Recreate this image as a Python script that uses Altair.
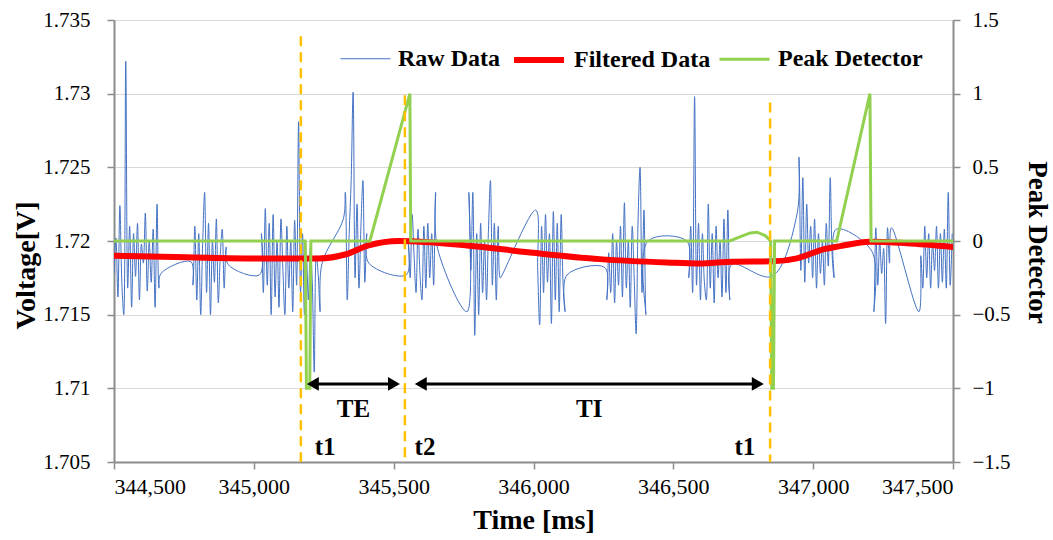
import altair as alt
import pandas as pd

SERIES = ["Raw Data", "Filtered Data", "Peak Detector"]
SERIES_COLORS = ["#4472C4", "#FF0000", "#92D050"]
SERIES_WIDTHS = [1, 6, 3]

SAMPLE_MS = 7  # sampling period inside each acquisition burst

# Raw voltage bursts: first sample time [ms] and samples [V]
burst_01_start = 344500
burst_01 = [1.7178, 1.7202, 1.7162, 1.7224, 1.7172, 1.7150, 1.7322, 1.7168, 1.7210, 1.7155,
            1.7205, 1.7176, 1.7212, 1.7160, 1.7198, 1.7185, 1.7219, 1.7166, 1.7200, 1.7172,
            1.7208, 1.7155, 1.7225, 1.7168, 1.7178]
burst_02_start = 344775
burst_02 = [1.7186, 1.7170, 1.7210, 1.7160, 1.7205, 1.7150, 1.7198, 1.7233, 1.7165, 1.7212,
            1.7150, 1.7200, 1.7172, 1.7215, 1.7158, 1.7190, 1.7208, 1.7168, 1.7196, 1.7184]
burst_03_start = 345020
burst_03 = [1.7177, 1.7205, 1.7165, 1.7222, 1.7170, 1.7212, 1.7150, 1.7218, 1.7162, 1.7200,
            1.7155, 1.7215, 1.7180, 1.7150, 1.7210, 1.7168, 1.7200, 1.7152, 1.7214, 1.7170,
            1.7281, 1.7165]
burst_04_start = 345174
burst_04 = [1.7205, 1.7150, 1.7190, 1.7160, 1.7195, 1.7172, 1.7111, 1.7190, 1.7178, 1.7152,
            1.7185]
burst_05_start = 345320
burst_05 = [1.7215, 1.7233, 1.7160, 1.7205, 1.7241, 1.7301, 1.7175, 1.7225, 1.7168, 1.7210,
            1.7241, 1.7172, 1.7205, 1.7185]
burst_06_start = 345545
burst_06 = [1.7177, 1.7200, 1.7175, 1.7218, 1.7190, 1.7165, 1.7208, 1.7178, 1.7160, 1.7210,
            1.7168, 1.7212, 1.7175, 1.7205, 1.7170, 1.7233, 1.7195]
burst_07_start = 345762
burst_07 = [1.7152, 1.7233, 1.7180, 1.7233, 1.7136, 1.7205, 1.7150, 1.7212, 1.7165, 1.7200,
            1.7160, 1.7208, 1.7241, 1.7170, 1.7212, 1.7160, 1.7210, 1.7175, 1.7177]
burst_08_start = 346008
burst_08 = [1.7221, 1.7180, 1.7143, 1.7210, 1.7165, 1.7218, 1.7172, 1.7205, 1.7144, 1.7220,
            1.7160, 1.7212, 1.7152, 1.7218, 1.7170, 1.7152, 1.7177]
burst_09_start = 346255
burst_09 = [1.7182, 1.7160, 1.7192, 1.7165, 1.7205, 1.7158, 1.7200, 1.7170, 1.7210, 1.7162,
            1.7226, 1.7168, 1.7200, 1.7155, 1.7210, 1.7175, 1.7137, 1.7215, 1.7250, 1.7165,
            1.7221, 1.7150, 1.7200]
burst_10_start = 346548
burst_10 = [1.7200, 1.7175, 1.7210, 1.7165, 1.7298, 1.7170, 1.7212, 1.7160, 1.7205, 1.7172,
            1.7160, 1.7225, 1.7168, 1.7205, 1.7158, 1.7210, 1.7175, 1.7200, 1.7162, 1.7215,
            1.7165, 1.7221, 1.7160, 1.7184]
burst_11_start = 346942
burst_11 = [1.7218, 1.7257, 1.7180, 1.7243, 1.7172, 1.7225, 1.7185, 1.7210, 1.7175, 1.7215,
            1.7168, 1.7205, 1.7178, 1.7200, 1.7170, 1.7212, 1.7183, 1.7243, 1.7190, 1.7175,
            1.7208]
burst_12_start = 347210
burst_12 = [1.7193, 1.7152, 1.7209, 1.7170, 1.7200, 1.7178, 1.7195, 1.7144, 1.7209, 1.7185,
            1.7209]
burst_13_start = 347385
burst_13 = [1.7190, 1.7168, 1.7210, 1.7175, 1.7205, 1.7168, 1.7200, 1.7180, 1.7210, 1.7168,
            1.7205, 1.7172, 1.7208, 1.7168, 1.7233, 1.7170, 1.7205]

# Single samples recorded between bursts
lone_t = [346852, 347378]
lone_v = [1.7176, 1.7152]

# Low-pass filtered voltage
filt_t = [344500, 344760, 345000, 345230, 345330, 345410, 345520, 345762, 345998, 346237,
          346477, 346595, 346713, 346857, 346942, 347036, 347096, 347203, 347335, 347500]
filt_v = [1.7190, 1.7189, 1.71882, 1.71882, 1.7191, 1.7197, 1.7200, 1.7197, 1.7192, 1.71877,
          1.71854, 1.71847, 1.7186, 1.71862, 1.71882, 1.71943, 1.71965, 1.71995, 1.71985, 1.7196]

# Peak detector output
peak_t = [344500, 345184, 345188, 345200, 345204, 345415, 345558, 345561, 346702, 346740,
          346775, 346800, 346830, 346848, 346852, 346858, 346862, 347084, 347203, 347207, 347500]
peak_v = [0, 0, -1, -1, 0, 0, 1, 0, 0, 0.03,
          0.055, 0.06, 0.035, 0, -1, -1, 0, 0, 1, 0, 0]

# Event markers
event_t = [345168, 345540, 346846]
event_top = [1.7339, 1.7299, 1.7294]
event_name = ["t1", "t2", "t1"]
event_label_t = [345255, 345612, 346756]
event_label_v = 1.7060

# Interval arrows
interval_name = ["TE", "TI"]
interval_from = [345186, 345572]
interval_to = [345526, 346827]
interval_v = 1.7103
interval_label_v = 1.7086

X_TICKS = [344500, 345000, 345500, 346000, 346500, 347000, 347500]
V_TICKS = [1.705, 1.71, 1.715, 1.72, 1.725, 1.73, 1.735]
P_TICKS = [-1.5, -1, -0.5, 0, 0.5, 1, 1.5]

SERIF = "Liberation Serif"
AXIS_GREY = "#8C8C8C"

# ---- tables -------------------------------------------------------------
bursts = [
    (burst_01_start, burst_01), (burst_02_start, burst_02), (burst_03_start, burst_03),
    (burst_04_start, burst_04), (burst_05_start, burst_05), (burst_06_start, burst_06),
    (burst_07_start, burst_07), (burst_08_start, burst_08), (burst_09_start, burst_09),
    (burst_10_start, burst_10), (burst_11_start, burst_11), (burst_12_start, burst_12),
    (burst_13_start, burst_13),
]
raw_rows = []
for start, values in bursts:
    for i, v in enumerate(values):
        raw_rows.append({"t": start + i * SAMPLE_MS, "v": v})
for t, v in zip(lone_t, lone_v):
    raw_rows.append({"t": t, "v": v})
raw_df = pd.DataFrame(raw_rows).sort_values("t").reset_index(drop=True)
raw_df["series"] = "Raw Data"

filt_df = pd.DataFrame({"t": filt_t, "v": filt_v, "series": "Filtered Data"})
peak_df = pd.DataFrame({"t": peak_t, "p": peak_v, "series": "Peak Detector"})
peak_df["idx"] = range(len(peak_df))

event_df = pd.DataFrame({
    "t": event_t, "top": event_top, "bottom": V_TICKS[0],
    "name": event_name, "label_t": event_label_t, "label_v": event_label_v,
})

HEAD_MS = 25  # arrowhead half-length along the time axis
interval_df = pd.DataFrame({"name": interval_name, "start": interval_from, "end": interval_to})
interval_df["v"] = interval_v
interval_df["label_v"] = interval_label_v
interval_df["mid"] = (interval_df["start"] + interval_df["end"]) / 2
interval_df["head_l"] = interval_df["start"] + HEAD_MS
interval_df["head_r"] = interval_df["end"] - HEAD_MS

# ---- scales, axes --------------------------------------------------------
x_scale = alt.Scale(domain=[344500, 347500], nice=False, zero=False)
v_scale = alt.Scale(domain=[1.705, 1.735], nice=False, zero=False)
p_scale = alt.Scale(domain=[-1.5, 1.5], nice=False, zero=False)

x_axis = alt.Axis(values=X_TICKS, labelExpr="format(datum.value, ',')", title="Time [ms]",
                  grid=False, tickSize=7, labelPadding=7, labelFontSize=22,
                  titleY=58, titleBaseline="middle")
v_axis = alt.Axis(values=V_TICKS, labelExpr="format(datum.value, '~g')", title="Voltage[V]",
                  grid=True, gridColor="#D9D9D9", gridWidth=1, tickSize=7, labelPadding=17,
                  titleX=-88, titleY=245, titleAngle=270,
                  titleAlign="center", titleBaseline="middle", orient="left")
p_axis = alt.Axis(values=P_TICKS, labelExpr="format(datum.value, '~g')", title="Peak Detector",
                  grid=False, tickSize=7, labelPadding=12, titleX=83, titleY=222, titleAngle=90,
                  titleFontSize=27, titleAlign="center", titleBaseline="middle", orient="right")


def xq(field, axis=True):
    return alt.X(field, type="quantitative", scale=x_scale, axis=x_axis if axis else None)


def vq(field, axis=True):
    return alt.Y(field, type="quantitative", scale=v_scale, axis=v_axis if axis else None)


legend = alt.Legend(
    orient="none", legendX=226, legendY=12, direction="horizontal", title=None,
    symbolType="stroke", symbolSize=2500, labelFont=SERIF, labelFontSize=24,
    labelFontWeight="bold", labelColor="black", labelOffset=7, columnPadding=2,
    padding=0,
)
color_enc = alt.Color("series:N", scale=alt.Scale(domain=SERIES, range=SERIES_COLORS), legend=legend)
width_enc = alt.StrokeWidth("series:N",
                            scale=alt.Scale(type="ordinal", domain=SERIES, range=SERIES_WIDTHS),
                            legend=legend)

# ---- marks ---------------------------------------------------------------
raw_line = alt.Chart(raw_df).mark_line(interpolate="catmull-rom", clip=True).encode(
    x=xq("t"), y=vq("v"), color=color_enc, strokeWidth=width_enc)

filt_line = alt.Chart(filt_df).mark_line(interpolate="monotone", strokeCap="round", clip=True).encode(
    x=xq("t"), y=vq("v"), color=color_enc, strokeWidth=width_enc)

voltage_layer = alt.layer(raw_line, filt_line)

peak_line = alt.Chart(peak_df).mark_line(interpolate="linear", clip=True).encode(
    x=xq("t"),
    y=alt.Y("p:Q", scale=p_scale, axis=p_axis),
    order="idx:Q",
    color=color_enc, strokeWidth=width_enc)

event_rules = alt.Chart(event_df).mark_rule(
    color="#FFC000", strokeWidth=2.5, strokeDash=[10, 6]).encode(
    x=xq("t"), y=vq("top", False), y2="bottom")

event_text = alt.Chart(event_df).mark_text(
    font=SERIF, fontSize=25, fontWeight="bold", color="black", baseline="middle").encode(
    x=xq("label_t"), y=vq("label_v", False), text="name")

shafts = alt.Chart(interval_df).mark_rule(color="black", strokeWidth=3).encode(
    x=xq("head_l"), x2="head_r", y=vq("v", False))

heads_left = alt.Chart(interval_df).mark_point(
    shape="triangle-left", filled=True, color="black", opacity=1, size=190).encode(
    x=xq("head_l"), y=vq("v", False))

heads_right = alt.Chart(interval_df).mark_point(
    shape="triangle-right", filled=True, color="black", opacity=1, size=190).encode(
    x=xq("head_r"), y=vq("v", False))

interval_text = alt.Chart(interval_df).mark_text(
    font=SERIF, fontSize=25, fontWeight="bold", color="black", baseline="middle").encode(
    x=xq("mid"), y=vq("label_v", False), text="name")

annotation_layer = alt.layer(event_rules, shafts, heads_left, heads_right, interval_text, event_text)

chart = alt.layer(voltage_layer, peak_line, annotation_layer).resolve_scale(
    y="independent"
).properties(
    width=839, height=442,
    padding={"left": 114, "top": 20, "right": 100, "bottom": 78},
    autosize=alt.AutoSizeParams(type="none"),
    background="white",
).configure_view(stroke=None).configure_axis(
    domainColor=AXIS_GREY, domainWidth=2, tickColor=AXIS_GREY, tickWidth=1.5,
    labelFont=SERIF, labelFontSize=21, labelColor="black",
    titleFont=SERIF, titleFontSize=28, titleFontWeight="bold", titleColor="black",
)

chart.save("out.html", embed_options={"renderer": "svg", "actions": False})
